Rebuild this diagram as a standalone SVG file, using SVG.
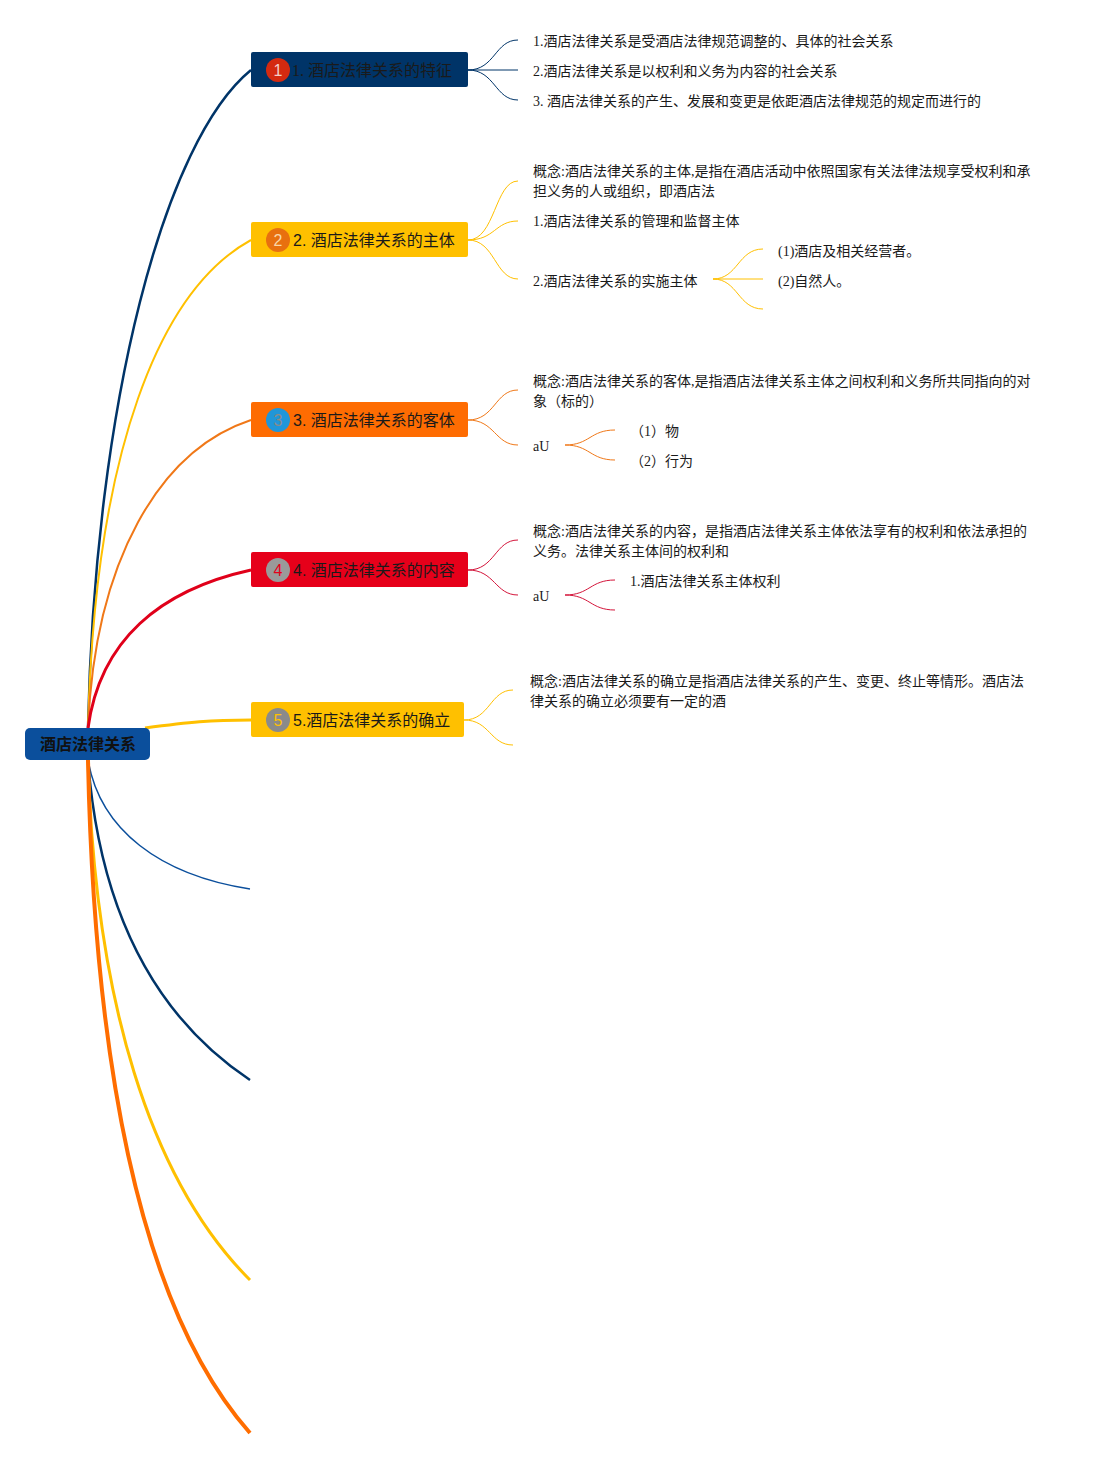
<svg xmlns="http://www.w3.org/2000/svg" width="1093" height="1459" viewBox="0 0 1093 1459">
<style>
.t{font-family:"Liberation Serif","Noto Sans CJK SC",serif;font-size:14px;fill:#1a1a1a}
.tp{font-family:"Liberation Sans","Noto Sans CJK SC",sans-serif;font-size:16px;fill:#1a1a1a}
.tp1{font-family:"Liberation Serif","Noto Sans CJK SC",serif;font-size:16px;fill:#1a1a1a}
.bn{font-family:"Liberation Sans","Noto Sans CJK SC",sans-serif;font-size:16px;text-anchor:middle}
.c{fill:none}
</style>
<rect width="1093" height="1459" fill="#ffffff"/>
<g id="connectors">
  <path class="c" d="M88 728 C95 400 165 140 251 70" stroke="#003468" stroke-width="2.5"/>
  <path class="c" d="M88 728 C95 450 160 290 251 240" stroke="#ffc000" stroke-width="2"/>
  <path class="c" d="M88 728 C95 560 160 450 251 420" stroke="#f07818" stroke-width="2"/>
  <path class="c" d="M88 728 C100 640 160 590 251 570" stroke="#e0001a" stroke-width="3"/>
  <path class="c" d="M145 728 C190 722 210 720 251 720" stroke="#ffc000" stroke-width="3"/>
  <path class="c" d="M88 760 C100 830 160 875 250 889" stroke="#0b4f9c" stroke-width="1.5"/>
  <path class="c" d="M88 760 C100 920 160 1020 250 1080" stroke="#003468" stroke-width="2.5"/>
  <path class="c" d="M88 760 C95 1000 150 1180 250 1280" stroke="#ffc000" stroke-width="3"/>
  <path class="c" d="M88 760 C95 1100 150 1320 250 1433" stroke="#ff6d00" stroke-width="4"/>
  <g stroke="#003468" stroke-width="1" fill="none">
    <path d="M468 70 C495 70 495 40 518 40"/>
    <path d="M468 70 L518 70"/>
    <path d="M468 70 C495 70 495 100 518 100"/>
  </g>
  <g stroke="#ffc000" stroke-width="1" fill="none">
    <path d="M468 240 C495 240 495 181 518 181"/>
    <path d="M468 240 C495 240 495 221 518 221"/>
    <path d="M468 240 C495 240 495 279 518 279"/>
    <path d="M713 279 C738 279 738 249 763 249"/>
    <path d="M713 279 L763 279"/>
    <path d="M713 279 C738 279 738 309 763 309"/>
  </g>
  <g stroke="#f07818" stroke-width="1" fill="none">
    <path d="M468 420 C495 420 495 390 518 390"/>
    <path d="M468 420 C495 420 495 445 518 445"/>
    <path d="M565 445 C590 445 590 430 615 430"/>
    <path d="M565 445 C590 445 590 460 615 460"/>
  </g>
  <g stroke="#d4143a" stroke-width="1" fill="none">
    <path d="M468 570 C495 570 495 540 518 540"/>
    <path d="M468 570 C495 570 495 595 518 595"/>
    <path d="M565 595 C590 595 590 580 615 580"/>
    <path d="M565 595 C590 595 590 610 615 610"/>
  </g>
  <g stroke="#ffc000" stroke-width="1" fill="none">
    <path d="M464 720 C490 720 490 690 513 690"/>
    <path d="M464 720 C490 720 490 745 513 745"/>
  </g>
</g>
<g id="root">
  <rect x="25" y="728" width="125" height="32" rx="5" fill="#0b4f9c"/>
  <text x="88" y="750" text-anchor="middle" font-family="Liberation Sans,'Noto Sans CJK SC',sans-serif" font-size="16" font-weight="bold" fill="#111">酒店法律关系</text>
</g>
<g id="topic1">
  <rect x="251" y="52" width="217" height="35" rx="2" fill="#003468"/>
  <circle cx="278" cy="70" r="12" fill="#d42a10"/>
  <text class="bn" x="278" y="76" fill="#f3d0c8">1</text>
  <text class="tp1" x="292" y="76">1. 酒店法律关系的特征</text>
</g>
<g id="topic1-subs">
  <text class="t" x="533" y="46">1.酒店法律关系是受酒店法律规范调整的、具体的社会关系</text>
  <text class="t" x="533" y="76">2.酒店法律关系是以权利和义务为内容的社会关系</text>
  <text class="t" x="533" y="106">3. 酒店法律关系的产生、发展和变更是依距酒店法律规范的规定而进行的</text>
</g>
<g id="topic2">
  <rect x="251" y="222" width="217" height="35" rx="2" fill="#ffc000"/>
  <circle cx="278" cy="240" r="12" fill="#e8700f"/>
  <text class="bn" x="278" y="246" fill="#f9d7a8">2</text>
  <text class="tp" x="293" y="246">2. 酒店法律关系的主体</text>
</g>
<g id="topic2-subs">
  <text class="t" x="533" y="176">概念:酒店法律关系的主体,是指在酒店活动中依照国家有关法律法规享受权利和承</text>
  <text class="t" x="533" y="196">担义务的人或组织，即酒店法</text>
  <text class="t" x="533" y="226">1.酒店法律关系的管理和监督主体</text>
  <text class="t" x="533" y="286">2.酒店法律关系的实施主体</text>
  <text class="t" x="778" y="256">(1)酒店及相关经营者。</text>
  <text class="t" x="778" y="286">(2)自然人。</text>
</g>
<g id="topic3">
  <rect x="251" y="402" width="217" height="35" rx="2" fill="#fe6c02"/>
  <circle cx="278" cy="420" r="12" fill="#2196d8"/>
  <text class="bn" x="278" y="426" fill="#8a8a8a">3</text>
  <text class="tp" x="293" y="426">3. 酒店法律关系的客体</text>
</g>
<g id="topic3-subs">
  <text class="t" x="533" y="386">概念:酒店法律关系的客体,是指酒店法律关系主体之间权利和义务所共同指向的对</text>
  <text class="t" x="533" y="406">象（标的）</text>
  <text class="t" x="533" y="451">aU</text>
  <text class="t" x="630" y="436">（1）物</text>
  <text class="t" x="630" y="466">（2）行为</text>
</g>
<g id="topic4">
  <rect x="251" y="552" width="217" height="35" rx="2" fill="#e6001a"/>
  <circle cx="278" cy="570" r="12" fill="#9a9a9a"/>
  <text class="bn" x="278" y="576" fill="#e6001a">4</text>
  <text class="tp" x="293" y="576">4. 酒店法律关系的内容</text>
</g>
<g id="topic4-subs">
  <text class="t" x="533" y="536">概念:酒店法律关系的内容，是指酒店法律关系主体依法享有的权利和依法承担的</text>
  <text class="t" x="533" y="556">义务。法律关系主体间的权利和</text>
  <text class="t" x="533" y="601">aU</text>
  <text class="t" x="630" y="586">1.酒店法律关系主体权利</text>
</g>
<g id="topic5">
  <rect x="251" y="702" width="213" height="35" rx="2" fill="#ffc000"/>
  <circle cx="278" cy="720" r="12" fill="#8a8a8a"/>
  <text class="bn" x="278" y="726" fill="#ffc000">5</text>
  <text class="tp" x="293" y="726">5.酒店法律关系的确立</text>
</g>
<g id="topic5-subs">
  <text class="t" x="530" y="686">概念:酒店法律关系的确立是指酒店法律关系的产生、变更、终止等情形。酒店法</text>
  <text class="t" x="530" y="706">律关系的确立必须要有一定的酒</text>
</g>
</svg>
